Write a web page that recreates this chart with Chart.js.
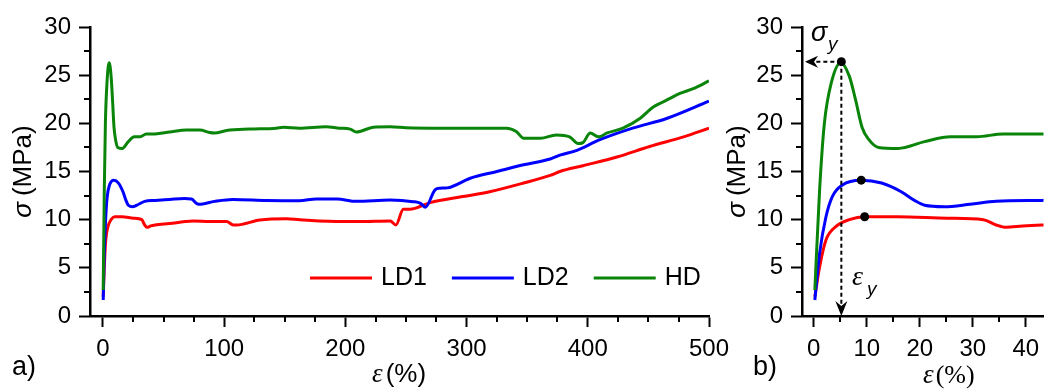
<!DOCTYPE html>
<html>
<head>
<meta charset="utf-8">
<script src="https://cdn.jsdelivr.net/npm/chart.js@4.4.1/dist/chart.umd.min.js"></script>
<style>
  html, body { margin: 0; padding: 0; background: #fff; }
  #wrap { position: relative; width: 1048px; height: 390px; overflow: hidden; }
  #full { position: absolute; left: 0; top: 0; }
  #zoom { position: absolute; left: 715px; top: 0; }
</style>
</head>
<body>
<div id="wrap">
  <canvas id="full" width="740" height="390"></canvas>
  <canvas id="zoom" width="333" height="390"></canvas>
</div>
<script>
// strain (%) / stress (MPa) for the three films
const ld1Strain = [0.2, 1.1, 2.3, 4.2, 6.7, 9.6, 15.7, 25.2, 32, 34.4, 36.3, 39.4, 43, 55, 67.7, 74.5, 88, 102, 107.5, 110, 129.5, 151.5, 162.5, 198, 212, 237, 241.7, 247.8, 253, 270, 297, 319, 347, 369, 377, 396, 424, 451, 479, 500];
const ld1Stress = [2.0, 5.1, 7.9, 9.3, 10.0, 10.3, 10.3, 10.15, 10.0, 9.45, 9.2, 9.35, 9.45, 9.6, 9.8, 9.86, 9.8, 9.8, 9.45, 9.45, 9.97, 10.1, 10.0, 9.8, 9.8, 9.86, 9.45, 11.07, 11.07, 11.77, 12.4, 12.9, 13.8, 14.6, 15.0, 15.6, 16.5, 17.6, 18.6, 19.5];

const ld2Strain = [0.2, 1.1, 2.3, 3.5, 5.4, 8.9, 12.8, 16.5, 19.0, 20.9, 24.6, 29.5, 34.4, 43, 55, 67, 73, 77, 79, 92, 107, 135, 162, 176, 193, 209, 237, 256, 262, 266, 274, 278, 284, 303, 325, 347, 369, 377, 391, 410, 437, 465, 500];
const ld2Stress = [1.66, 6.5, 10.3, 12.4, 13.6, 14.1, 13.8, 12.9, 12.0, 11.5, 11.35, 11.6, 11.9, 12.0, 12.1, 12.2, 12.15, 11.7, 11.6, 11.9, 12.1, 12.0, 11.97, 12.15, 12.15, 11.9, 12.05, 11.87, 11.7, 11.3, 13.1, 13.26, 13.3, 14.3, 15.0, 15.7, 16.3, 16.7, 17.2, 18.3, 19.5, 20.5, 22.3];

const hdStrain = [0.2, 1.1, 2.0, 3.3, 5.1, 6.7, 7.9, 9.1, 10.4, 12.2, 15.9, 20.9, 25.8, 30.7, 35.7, 43, 55, 69, 80, 88, 92, 102, 121, 143, 149, 162, 184, 195, 204, 209, 212, 223, 237, 250, 278, 305, 333, 341, 347, 361, 374, 385, 392, 396, 402, 409, 416, 429, 443, 454, 465, 476, 487, 500];
const hdStress = [2.7, 13.1, 20.0, 24.2, 26.3, 24.9, 22.4, 19.6, 18.3, 17.5, 17.4, 18.1, 18.6, 18.6, 18.9, 18.9, 19.1, 19.3, 19.3, 19.05, 19.0, 19.25, 19.4, 19.5, 19.6, 19.5, 19.65, 19.5, 19.4, 19.1, 19.15, 19.6, 19.65, 19.55, 19.5, 19.5, 19.5, 19.15, 18.45, 18.45, 18.8, 18.6, 17.9, 18.0, 19.0, 18.6, 19.0, 19.5, 20.5, 21.7, 22.4, 23.1, 23.6, 24.4];

// yield points (LD1, LD2, HD)
const yieldStrain = [9.6, 8.95, 5.2];
const yieldStress = [10.3, 14.1, 26.4];

const seriesLabels = ['LD1', 'LD2', 'HD'];
const seriesColors = ['#ff0000', '#0000ff', '#0a850a'];

const stressTicks = [0, 5, 10, 15, 20, 25, 30];
const strainTicksFull = [0, 100, 200, 300, 400, 500];
const strainTicksZoom = [0, 10, 20, 30, 40];

const SANS = '"Liberation Sans", Arial, sans-serif';
const SERIF = '"Liberation Serif", "Times New Roman", serif';

function toPoints(xs, ys) {
  return xs.map((x, i) => ({ x, y: ys[i] }));
}

function curveDatasets() {
  const sets = [[ld1Strain, ld1Stress], [ld2Strain, ld2Stress], [hdStrain, hdStress]];
  return sets.map(([xs, ys], i) => ({
    label: seriesLabels[i],
    data: toPoints(xs, ys),
    showLine: true,
    borderColor: seriesColors[i],
    backgroundColor: seriesColors[i],
    borderWidth: 3,
    pointRadius: 0,
    cubicInterpolationMode: 'monotone',
    order: 2 - i,
  }));
}

function axis(ticks, min, max, fit) {
  return {
    type: 'linear',
    min, max,
    afterBuildTicks: s => { s.ticks = ticks.map(value => ({ value })); },
    afterFit: fit,
    border: { display: true, color: '#000', width: 2.5 },
    grid: { drawOnChartArea: false, drawTicks: true, tickLength: 11, tickWidth: 2, tickColor: '#000' },
    ticks: { color: '#000', padding: 8, autoSkip: false, maxRotation: 0, font: { family: SANS, size: 24 } },
  };
}

// short unlabelled ticks between the major ones
function drawMinor(chart, xStep, yStep, xMajor) {
  const { ctx, chartArea: a, scales: { x, y } } = chart;
  ctx.save();
  ctx.strokeStyle = '#000';
  ctx.lineWidth = 2;
  ctx.beginPath();
  for (let v = Math.ceil(x.min / xStep) * xStep; v <= x.max; v += xStep) {
    if (xMajor.includes(v)) continue;
    const px = Math.round(x.getPixelForValue(v));
    ctx.moveTo(px, a.bottom);
    ctx.lineTo(px, a.bottom + 6);
  }
  for (let v = yStep; v < y.max; v += yStep) {
    if (stressTicks.includes(v)) continue;
    const py = Math.round(y.getPixelForValue(v));
    ctx.moveTo(a.left - 6, py);
    ctx.lineTo(a.left, py);
  }
  ctx.stroke();
  ctx.restore();
}

// draws runs of [text, font] side by side
function textRun(ctx, parts, x, y, gap) {
  let cx = x;
  parts.forEach(([t, f]) => {
    ctx.font = f;
    ctx.fillText(t, cx, y);
    cx += ctx.measureText(t).width + (gap || 0);
  });
  return cx;
}

function runWidth(ctx, parts, gap) {
  let w = 0;
  parts.forEach(([t, f]) => { ctx.font = f; w += ctx.measureText(t).width + (gap || 0); });
  return w - (gap || 0);
}

function yTitle(chart, baseX) {
  const { ctx, chartArea: a } = chart;
  const parts = [['\u03c3', 'italic 26px ' + SANS], ['(MPa)', '26px ' + SANS]];
  ctx.save();
  ctx.fillStyle = '#000';
  ctx.textBaseline = 'alphabetic';
  ctx.translate(baseX, (a.top + a.bottom) / 2);
  ctx.rotate(-Math.PI / 2);
  const w = runWidth(ctx, parts, 6);
  textRun(ctx, parts, -w / 2, 0, 6);
  ctx.restore();
}

function arrowHead(ctx, tipX, tipY, dir) {
  // dir: 'left' or 'down'
  ctx.beginPath();
  if (dir === 'left') {
    ctx.moveTo(tipX, tipY);
    ctx.lineTo(tipX + 13, tipY - 6);
    ctx.lineTo(tipX + 9, tipY);
    ctx.lineTo(tipX + 13, tipY + 6);
  } else {
    ctx.moveTo(tipX, tipY);
    ctx.lineTo(tipX - 6, tipY - 15);
    ctx.lineTo(tipX, tipY - 10);
    ctx.lineTo(tipX + 6, tipY - 15);
  }
  ctx.closePath();
  ctx.fill();
}

const fullDecor = {
  id: 'fullDecor',
  afterDraw(chart) {
    const { ctx } = chart;
    drawMinor(chart, 25, 2.5, strainTicksFull);
    yTitle(chart, 31);
    ctx.save();
    ctx.fillStyle = '#000';
    ctx.textBaseline = 'alphabetic';
    textRun(ctx, [['\u03b5', 'italic 27px ' + SERIF], ['(%)', '26px ' + SANS]], 372, 382, 3);
    ctx.font = '27px ' + SANS;
    ctx.fillText('a)', 12, 375);

    // legend
    ctx.textBaseline = 'middle';
    ctx.font = '25px ' + SANS;
    let lx = 310;
    chart.data.datasets.forEach(ds => {
      ctx.strokeStyle = ds.borderColor;
      ctx.lineWidth = 3;
      ctx.beginPath();
      ctx.moveTo(lx, 278);
      ctx.lineTo(lx + 62, 278);
      ctx.stroke();
      ctx.fillStyle = '#000';
      ctx.fillText(ds.label, lx + 71, 278);
      lx += 71 + ctx.measureText(ds.label).width + 25;
    });
    ctx.restore();
  },
};

const zoomDecor = {
  id: 'zoomDecor',
  afterDatasetsDraw(chart) {
    const { ctx, chartArea: a, scales: { x, y } } = chart;
    const px = x.getPixelForValue(yieldStrain[2]);
    const py = y.getPixelForValue(yieldStress[2]);
    ctx.save();
    ctx.strokeStyle = '#000';
    ctx.fillStyle = '#000';
    ctx.lineWidth = 2;
    ctx.setLineDash([4, 3]);
    ctx.beginPath();
    ctx.moveTo(px, py);
    ctx.lineTo(a.left + 14, py);
    ctx.moveTo(px, py);
    ctx.lineTo(px, a.bottom - 12);
    ctx.stroke();
    ctx.setLineDash([]);
    arrowHead(ctx, a.left + 3, py, 'left');
    arrowHead(ctx, px, a.bottom, 'down');
    ctx.restore();
  },
  afterDraw(chart) {
    const { ctx } = chart;
    drawMinor(chart, 5, 2.5, strainTicksZoom);
    yTitle(chart, 29.5);
    ctx.save();
    ctx.fillStyle = '#000';
    ctx.textBaseline = 'alphabetic';
    textRun(ctx, [['\u03b5', 'italic 27px ' + SERIF], ['(%)', '26px ' + SERIF]], 208, 383, 2);
    ctx.font = '27px ' + SANS;
    ctx.fillText('b)', 38, 375);
    // yield labels
    ctx.font = 'italic 27px ' + SANS;
    ctx.fillText('\u03c3', 96, 41);
    ctx.font = 'italic 19px ' + SANS;
    ctx.fillText('y', 113, 50);
    ctx.font = 'italic 28px ' + SERIF;
    ctx.fillText('\u03b5', 137, 285);
    ctx.font = 'italic 19px ' + SANS;
    ctx.fillText('y', 152, 295);
    ctx.restore();
  },
};

const baseOptions = {
  responsive: false,
  animation: false,
  devicePixelRatio: 1,
  events: [],
  plugins: { legend: { display: false }, tooltip: { enabled: false } },
};

new Chart(document.getElementById('full'), {
  type: 'scatter',
  data: { datasets: curveDatasets() },
  options: {
    ...baseOptions,
    layout: { padding: { left: 0, top: 27, right: 31, bottom: 0 } },
    scales: {
      x: axis(strainTicksFull, -10.7, 500, s => { s.height = 74; }),
      y: axis(stressTicks, 0, 30, s => { s.width = 90; }),
    },
  },
  plugins: [fullDecor],
});

const zoomSets = curveDatasets();
zoomSets.push({
  label: 'yield',
  data: toPoints(yieldStrain, yieldStress),
  pointRadius: 4.5,
  pointBackgroundColor: '#000',
  pointBorderWidth: 0,
  showLine: false,
  order: -1,
});

new Chart(document.getElementById('zoom'), {
  type: 'scatter',
  data: { datasets: zoomSets },
  options: {
    ...baseOptions,
    layout: { padding: { left: 0, top: 27, right: 0, bottom: 0 } },
    scales: {
      x: axis(strainTicksZoom, -2.22, 43.33, s => { s.height = 74; }),
      y: axis(stressTicks, 0, 30, s => { s.width = 87; }),
    },
  },
  plugins: [zoomDecor],
});
</script>
</body>
</html>
